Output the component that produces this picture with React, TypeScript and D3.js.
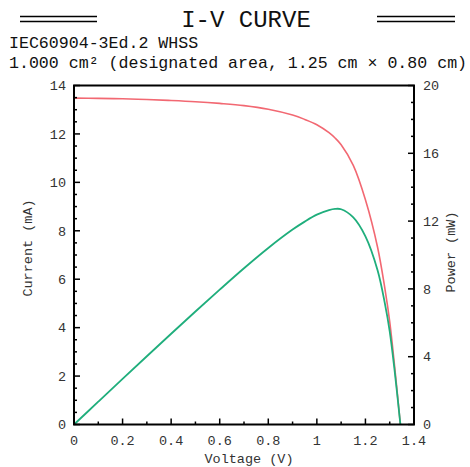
import React from "react";
import * as d3 from "d3";

const voltage = [0, 0.1, 0.2, 0.3, 0.4, 0.5, 0.6, 0.7, 0.8, 0.9, 0.95, 1.0, 1.05, 1.075, 1.1, 1.15, 1.2, 1.25, 1.28, 1.3, 1.32, 1.344];
const current = [13.48, 13.47, 13.45, 13.42, 13.38, 13.33, 13.26, 13.17, 13.02, 12.78, 12.6, 12.38, 12.05, 11.83, 11.55, 10.7, 9.28, 7.32, 5.62, 4.25, 2.42, 0];
const power = [0, 1.347, 2.69, 4.026, 5.352, 6.665, 7.956, 9.219, 10.416, 11.5, 11.97, 12.38, 12.65, 12.72, 12.7, 12.22, 11.1, 9.1, 7.15, 5.5, 3.2, 0];

const xTicks = [0, 0.2, 0.4, 0.6, 0.8, 1, 1.2, 1.4];
const currentTicks = [0, 2, 4, 6, 8, 10, 12, 14];
const powerTicks = [0, 4, 8, 12, 16, 20];

const title = "I-V CURVE";
const subtitle1 = "IEC60904-3Ed.2 WHSS";
const subtitle2 = "1.000 cm² (designated area, 1.25 cm × 0.80 cm)";
const xLabel = "Voltage (V)";
const yLabel = "Current (mA)";
const y2Label = "Power (mW)";

const FONT = "'Liberation Mono', 'Courier New', monospace";
const RED = "#f26872";
const GREEN = "#1fae7c";

export default function App() {
  const W = 470, H = 467;
  const L = 74, R = 414, T = 85.5, B = 424.5;
  const x = d3.scaleLinear().domain([0, 1.4]).range([L, R]);
  const y = d3.scaleLinear().domain([0, 14]).range([B, T]);
  const y2 = d3.scaleLinear().domain([0, 20]).range([B, T]);

  const ivLine = d3.line<number>().x((_, i) => x(voltage[i])).y((d) => y(d)).curve(d3.curveCatmullRom.alpha(0.5));
  const pLine = d3.line<number>().x((_, i) => x(voltage[i])).y((d) => y2(d)).curve(d3.curveCatmullRom.alpha(0.5));

  const xMinor = d3.range(0, 14).map((i) => i * 0.1 + 0.1).filter((v) => Math.round(v * 10) % 2 === 1);
  const yMinor = d3.range(0, 28).map((i) => i * 0.5).filter((v) => v % 2 !== 0);
  const y2Minor = d3.range(0, 20).filter((v) => v % 4 !== 0);

  const fmt = (d: number) => String(+d.toFixed(1));
  const labelColor = "#333";

  return (
    <svg width={W} height={H} style={{ position: "absolute", left: 0, top: 0 }}>
      <rect x={0} y={0} width={W} height={H} fill="#fff" />
      {/* header */}
      <line x1={20} x2={97} y1={16.5} y2={16.5} stroke="#000" strokeWidth={1.5} />
      <line x1={20} x2={97} y1={21.5} y2={21.5} stroke="#000" strokeWidth={1.5} />
      <line x1={377} x2={455} y1={16.5} y2={16.5} stroke="#000" strokeWidth={1.5} />
      <line x1={377} x2={455} y1={21.5} y2={21.5} stroke="#000" strokeWidth={1.5} />
      <text x={246} y={27} textAnchor="middle" fontFamily={FONT} fontSize={24} fill="#111">{title}</text>
      <text x={9} y={48} fontFamily={FONT} fontSize={16.6} fill="#111">{subtitle1}</text>
      <text x={9} y={68} fontFamily={FONT} fontSize={16.6} fill="#111">{subtitle2}</text>

      {/* curves */}
      <path d={ivLine(current) || ""} fill="none" stroke={RED} strokeWidth={1.6} />
      <path d={pLine(power) || ""} fill="none" stroke={GREEN} strokeWidth={1.8} />

      {/* ticks */}
      {xTicks.map((t) => (
        <g key={"x" + t}>
          <line x1={x(t)} x2={x(t)} y1={B} y2={B - 6} stroke="#000" strokeWidth={1.5} />
          <text x={x(t)} y={445} textAnchor="middle" fontFamily={FONT} fontSize={13.5} fill={labelColor}>{fmt(t)}</text>
        </g>
      ))}
      {xMinor.map((t) => (
        <line key={"xm" + t} x1={x(t)} x2={x(t)} y1={B} y2={B - 3} stroke="#000" strokeWidth={1.5} />
      ))}
      {currentTicks.map((t) => (
        <g key={"y" + t}>
          <line x1={L} x2={L + 6} y1={y(t)} y2={y(t)} stroke="#000" strokeWidth={1.5} />
          <text x={66} y={y(t)} dy="0.35em" textAnchor="end" fontFamily={FONT} fontSize={13.5} fill={labelColor}>{t}</text>
        </g>
      ))}
      {yMinor.map((t) => (
        <line key={"ym" + t} x1={L} x2={L + 3} y1={y(t)} y2={y(t)} stroke="#000" strokeWidth={1.5} />
      ))}
      {powerTicks.map((t) => (
        <g key={"p" + t}>
          <line x1={R} x2={R - 6} y1={y2(t)} y2={y2(t)} stroke="#000" strokeWidth={1.5} />
          <text x={423} y={y2(t)} dy="0.35em" textAnchor="start" fontFamily={FONT} fontSize={13.5} fill={labelColor}>{t}</text>
        </g>
      ))}
      {y2Minor.map((t) => (
        <line key={"pm" + t} x1={R} x2={R - 3} y1={y2(t)} y2={y2(t)} stroke="#000" strokeWidth={1.5} />
      ))}

      {/* frame */}
      <rect x={L} y={T} width={R - L} height={B - T} fill="none" stroke="#000" strokeWidth={2} />

      {/* axis labels */}
      <text x={249} y={463} textAnchor="middle" fontFamily={FONT} fontSize={13.5} fill={labelColor}>{xLabel}</text>
      <text transform={`translate(32,248) rotate(-90)`} textAnchor="middle" fontFamily={FONT} fontSize={13.5} fill={labelColor}>{yLabel}</text>
      <text transform={`translate(455,252) rotate(-90)`} textAnchor="middle" fontFamily={FONT} fontSize={13.5} fill={labelColor}>{y2Label}</text>
    </svg>
  );
}
